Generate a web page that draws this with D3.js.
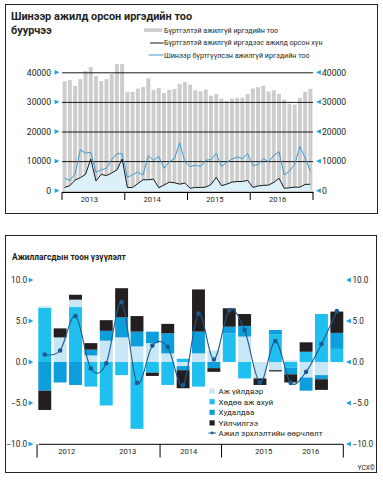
<!DOCTYPE html>
<html><head><meta charset="utf-8">
<script src="https://cdn.jsdelivr.net/npm/d3@7/dist/d3.min.js"></script>
<style>
body{margin:0;background:#fff}
svg{display:block;font-family:Roboto,"Open Sans",sans-serif;fill:#231f20}
</style>
</head><body>
<svg id="c" width="383" height="483"></svg>
<script>
// ---------- Top chart data (monthly, 2013-2016) ----------
const topYears = ["2013","2014","2015","2016"];
const registeredUnemployed = [
  37000,37400,35400,37700,40400,41800,38800,37000,37700,39400,42800,42800,
  33400,33400,34500,35000,38000,34100,34700,33000,34100,34400,36100,36700,
  35800,33900,33600,34200,32100,32700,31100,30400,31100,31300,31400,32700,
  34500,35000,35400,33500,33900,32700,30800,29400,29100,31300,33400,34400
];
const placedInJobs = [
  1100,1700,3600,4400,5500,10700,3300,5500,5100,6000,7000,10700,
  1100,1100,2400,3700,3700,3900,1000,1900,2900,2700,2200,2600,
  800,1100,1100,1200,2100,4500,1700,2200,2900,3100,3100,3500,
  1100,1600,1800,1900,2800,4200,800,1000,1200,1200,2100,2200
];
const newlyRegistered = [
  4300,3400,5800,13800,12700,13000,6200,7100,7500,10500,12500,12500,
  4500,5400,6300,5300,11800,10200,11600,7600,9800,10800,16200,9700,
  8200,8600,8200,10300,10500,12600,8200,9600,10700,11400,10800,12500,
  8500,8800,10900,9800,11900,13200,5300,6600,8900,14900,11100,6600
];
const topTicks = [0,10000,20000,30000,40000];
const topLegend = [
  "Бүртгэлтэй ажилгүй иргэдийн тоо",
  "Бүртгэлтэй ажилгүй иргэдээс ажилд орсон хүн",
  "Шинээр бүртгүүлсэн ажилгүй иргэдийн тоо"
];
const topTitle = ["Шинээр ажилд орсон иргэдийн тоо","буурчээ"];

// ---------- Bottom chart data (quarterly, 2012-2016) ----------
const bottomYears = ["2012","2013","2014","2015","2016"];
const industry    = [0.2, 3.0, 0.9, 0.8, 2.6, 3.0, 1.9, 2.3, 1.05,-0.5, 1.05, 1.4, 0.0, 3.1,-2.0,-1.0, 0.2,-1.9,-1.6, 0.0];
const agriculture = [6.6, 0.0, 6.7,-3.0,-5.3,-1.6,-8.15,-1.3,-2.8, 0.4,-3.0, 0.0, 3.5,-2.0, 0.0, 3.4,-0.7, 1.25, 5.85, 1.6];
const trade       = [-3.5,-2.5,-2.8, 0.7, 1.2, 2.45, 1.8, 1.4, 2.45,-0.5, 2.65,-0.75, 0.8, 1.3, 0.0, 0.5,-0.8,-1.6,-0.5, 1.95];
const services    = [-2.35, 1.1, 0.6, 0.8, 1.3, 3.55, 1.9,-0.4, 1.15,-2.2, 5.15,-0.45, 2.25, 1.45,-0.8,-0.15,-1.0, 1.15,-1.3, 2.6];
const employmentChange = [0.9, 1.4, 5.6,-0.8,-0.15, 7.3,-2.55, 2.0, 1.85,-2.85, 5.9, 0.3, 6.3, 3.9,-2.5, 2.55,-2.55,-1.2, 2.2, 6.2];
const bottomTicks = [-10,-5,0,5,10];
const bottomLegend = ["Аж үйлдвэр","Хөдөө аж ахуй","Худалдаа","Үйлчилгээ","Ажил эрхлэлтийн өөрчлөлт"];
const bottomTitle = "Ажиллагсдын тоон үзүүлэлт";
const sourceNote = "ҮСХ©";

// ---------- Styles ----------
const C = {
  text:"#231f20", bar:"#cdcdcd", black:"#1a1a1a", blue:"#3c9bd6", fill:"#dcf0fa",
  tri:"#1ea5e0", ind:"#c7e6f6", agr:"#1fbff0", trd:"#0d9fdb", srv:"#231f20", line:"#1c5b8f"
};
const svg = d3.select("#c");
const fmt = d3.format(".1f");

function triangle(g, x, y, dir){
  const s = 2.4;
  const p = dir > 0 ? [[x-s,y-s],[x+s,y],[x-s,y+s]] : [[x+s,y-s],[x-s,y],[x+s,y+s]];
  g.append("path").attr("d", d3.line()(p)+"Z").attr("fill", C.tri);
}

// Frames
svg.append("rect").attr("x",5.5).attr("y",4.5).attr("width",372).attr("height",209)
  .attr("fill","none").attr("stroke","#222").attr("stroke-width",1);
svg.append("rect").attr("x",5.5).attr("y",235.5).attr("width",371).attr("height",237)
  .attr("fill","none").attr("stroke","#222").attr("stroke-width",1);

// ================= TOP CHART =================
const topG = svg.append("g");
topG.selectAll("text.title").data(topTitle).join("text")
  .attr("x",11).attr("y",(d,i)=>19.5+i*14)
  .attr("font-size",10.9).attr("font-weight",700).attr("fill",C.text).text(d=>d);

const monthIdx = d3.range(registeredUnemployed.length);
const x1 = d3.scaleBand().domain(monthIdx).range([62,313]).paddingInner(0.24).paddingOuter(0.12);
const y1 = d3.scaleLinear().domain([0,40000]).range([190.7,72.3]);
const cx1 = i => x1(i) + x1.bandwidth()/2;

topG.append("g").selectAll("rect").data(registeredUnemployed).join("rect")
  .attr("x",(d,i)=>x1(i)).attr("width",x1.bandwidth())
  .attr("y",d=>y1(d)).attr("height",d=>y1(0)-y1(d)).attr("fill",C.bar);

topG.append("path").datum(placedInJobs)
  .attr("d", d3.area().x((d,i)=>cx1(i)).y0(y1(0)).y1(d=>y1(d)))
  .attr("fill",C.fill);

const grid1 = topG.append("g").attr("transform","translate(62,0)")
  .call(d3.axisLeft(y1).tickValues(topTicks.filter(t=>t>0)).tickSize(-251).tickFormat(""));
grid1.select(".domain").remove();
grid1.selectAll("line").attr("stroke","#000").attr("stroke-width",0.9);

topG.append("path").datum(placedInJobs)
  .attr("d", d3.line().x((d,i)=>cx1(i)).y(d=>y1(d)))
  .attr("fill","none").attr("stroke",C.black).attr("stroke-width",1);
topG.append("path").datum(newlyRegistered)
  .attr("d", d3.line().x((d,i)=>cx1(i)).y(d=>y1(d)))
  .attr("fill","none").attr("stroke",C.blue).attr("stroke-width",1);

const la1 = topG.append("g").attr("transform","translate(54,0)")
  .call(d3.axisLeft(y1).tickValues(topTicks).tickSize(0).tickPadding(3).tickFormat(d3.format("d")));
la1.select(".domain").remove();
la1.selectAll("text").attr("font-size",8.6).attr("fill",C.text).attr("font-family","Roboto");
topTicks.forEach(t=>triangle(topG,57,y1(t),1));
const ra1 = topG.append("g").attr("transform","translate(320,0)")
  .call(d3.axisRight(y1).tickValues(topTicks).tickSize(0).tickPadding(2).tickFormat(d3.format("d")));
ra1.select(".domain").remove();
ra1.selectAll("text").attr("font-size",8.6).attr("fill",C.text).attr("font-family","Roboto");
topTicks.forEach(t=>triangle(topG,318.5,y1(t),-1));

const xYear1 = d3.scaleBand().domain(topYears).range([62,313]);
topG.append("line").attr("x1",62).attr("x2",313.5).attr("y1",192.3).attr("y2",192.3)
  .attr("stroke","#000").attr("stroke-width",1.2);
const xa1 = topG.append("g").attr("transform","translate(-4,192.3)")
  .call(d3.axisBottom(xYear1).tickSize(0).tickPadding(4.5));
xa1.select(".domain").remove();
xa1.selectAll("text").attr("font-size",7.6).attr("fill",C.text).attr("font-family","Roboto");
topG.selectAll("line.yt").data(topYears.concat(["end"])).join("line")
  .attr("x1",(d,i)=>i<topYears.length?xYear1(d):xYear1.range()[1])
  .attr("x2",(d,i)=>i<topYears.length?xYear1(d):xYear1.range()[1])
  .attr("y1",192.3).attr("y2",200).attr("stroke","#000").attr("stroke-width",1);

const lg1 = topG.append("g").attr("font-size",7.15).attr("fill",C.text);
lg1.append("rect").attr("x",144).attr("y",28.3).attr("width",18.5).attr("height",3.6).attr("fill",C.bar);
lg1.append("line").attr("x1",150).attr("x2",163.5).attr("y1",43).attr("y2",43).attr("stroke",C.black).attr("stroke-width",1);
lg1.append("line").attr("x1",148.5).attr("x2",163.5).attr("y1",55).attr("y2",55).attr("stroke",C.blue).attr("stroke-width",1);
lg1.selectAll("text").data(topLegend).join("text")
  .attr("x",164).attr("y",(d,i)=>30+i*12.5).attr("dy","0.35em").text(d=>d);

// ================= BOTTOM CHART =================
const botG = svg.append("g");
botG.append("text").attr("x",12).attr("y",260).attr("font-size",8.4).attr("font-weight",700)
  .attr("fill",C.text).text(bottomTitle);

const qIdx = d3.range(employmentChange.length);
const x2 = d3.scaleBand().domain(qIdx).range([38.3,343.3]).paddingInner(0.16).paddingOuter(0.0);
const y2 = d3.scaleLinear().domain([-10,10]).range([444,280]);
const cx2 = i => x2(i) + x2.bandwidth()/2;

const rows = qIdx.map(i=>({i, agriculture:agriculture[i], industry:industry[i], trade:trade[i], services:services[i]}));
const keys = ["agriculture","industry","trade","services"];
const colors = {industry:C.ind, agriculture:C.agr, trade:C.trd, services:C.srv};
const stack = d3.stack().keys(keys).offset(d3.stackOffsetDiverging)(rows);
botG.append("g").selectAll("g").data(stack).join("g").attr("fill",s=>colors[s.key])
  .selectAll("rect").data(s=>s).join("rect")
  .attr("x",d=>x2(d.data.i)).attr("width",x2.bandwidth())
  .attr("y",d=>y2(Math.max(d[0],d[1]))).attr("height",d=>Math.abs(y2(d[0])-y2(d[1])));

botG.append("path").datum(employmentChange)
  .attr("d", d3.line().x((d,i)=>cx2(i)).y(d=>y2(d)).curve(d3.curveCardinal.tension(0)))
  .attr("fill","none").attr("stroke",C.line).attr("stroke-width",1.1);
botG.append("g").selectAll("circle").data(employmentChange).join("circle")
  .attr("cx",(d,i)=>cx2(i)).attr("cy",d=>y2(d)).attr("r",2.3).attr("fill",C.line);

const la2 = botG.append("g").attr("transform","translate(28,0)")
  .call(d3.axisLeft(y2).tickValues(bottomTicks).tickSize(0).tickPadding(1).tickFormat(fmt));
la2.select(".domain").remove();
la2.selectAll("text").attr("font-size",8.2).attr("fill",C.text).attr("font-family","Roboto");
bottomTicks.forEach(t=>triangle(botG,31,y2(t),1));
const ra2 = botG.append("g").attr("transform","translate(350,0)")
  .call(d3.axisRight(y2).tickValues(bottomTicks).tickSize(0).tickPadding(2.5).tickFormat(fmt));
ra2.select(".domain").remove();
ra2.selectAll("text").attr("font-size",8.2).attr("fill",C.text).attr("font-family","Roboto");
bottomTicks.forEach(t=>triangle(botG,348.5,y2(t),-1));

const xYear2 = d3.scaleBand().domain(bottomYears).range([38.3,343.3]);
botG.append("line").attr("x1",38.8).attr("x2",343).attr("y1",444.3).attr("y2",444.3)
  .attr("stroke","#000").attr("stroke-width",1);
const xa2 = botG.append("g").attr("transform","translate(-2,444.3)")
  .call(d3.axisBottom(xYear2).tickSize(0).tickPadding(4));
xa2.select(".domain").remove();
xa2.selectAll("text").attr("font-size",7.6).attr("fill",C.text).attr("font-family","Roboto");
xa2.selectAll(".tick").filter(d=>d==="2015").select("text").attr("dx",14);
const dividerQuarters = [0,8,12,20];
botG.selectAll("line.qt").data(dividerQuarters).join("line")
  .attr("x1",q=>q<qIdx.length?x2(q)-x2.step()*x2.paddingInner()/2:x2.range()[1])
  .attr("x2",q=>q<qIdx.length?x2(q)-x2.step()*x2.paddingInner()/2:x2.range()[1])
  .attr("y1",444.3).attr("y2",457.5).attr("stroke","#000").attr("stroke-width",1);

const lg2 = botG.append("g").attr("font-size",8).attr("fill",C.text);
const legKeys = ["industry","agriculture","trade","services"];
lg2.selectAll("rect").data(legKeys).join("rect")
  .attr("x",209.5).attr("y",(d,i)=>388.5+i*10.6).attr("width",5.2).attr("height",5.2)
  .attr("fill",d=>colors[d]);
lg2.append("line").attr("x1",208.5).attr("x2",216).attr("y1",433).attr("y2",433)
  .attr("stroke",C.line).attr("stroke-width",1);
lg2.append("circle").attr("cx",212.2).attr("cy",433).attr("r",1.4).attr("fill",C.line);
lg2.selectAll("text").data(bottomLegend).join("text")
  .attr("x",218.5).attr("y",(d,i)=>391.2+i*10.5).attr("dy","0.35em").text(d=>d);

botG.append("text").attr("x",375).attr("y",470).attr("text-anchor","end")
  .attr("font-size",6.6).attr("fill",C.text).text(sourceNote);
</script>
</body></html>
